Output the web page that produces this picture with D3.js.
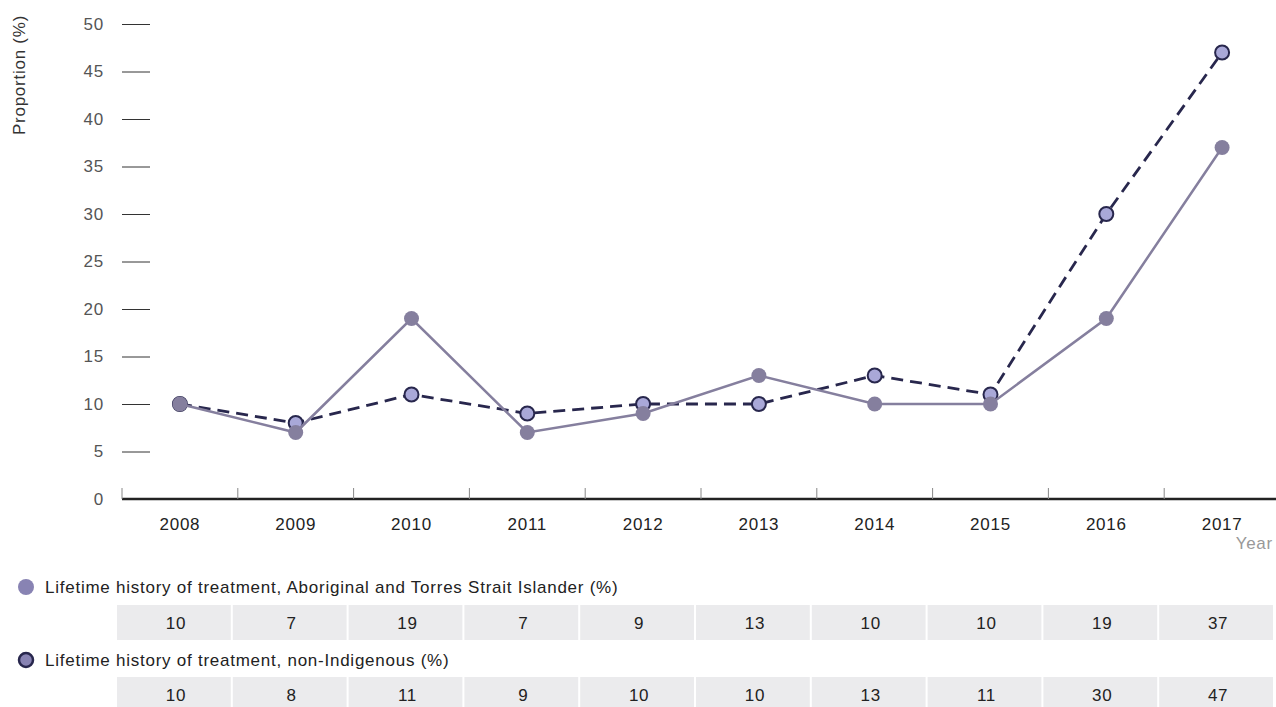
<!DOCTYPE html>
<html>
<head>
<meta charset="utf-8">
<script src="https://cdn.jsdelivr.net/npm/d3@7"></script>
<style>
  html, body { margin: 0; padding: 0; background: #fff; }
  svg { display: block; font-family: "Liberation Sans", Arial, sans-serif; letter-spacing: 0.75px; }
</style>
</head>
<body>
<svg id="chart" width="1276" height="707"></svg>
<script>
const years = ["2008", "2009", "2010", "2011", "2012", "2013", "2014", "2015", "2016", "2017"];
const aboriginal = [10, 7, 19, 7, 9, 13, 10, 10, 19, 37];
const nonIndigenous = [10, 8, 11, 9, 10, 10, 13, 11, 30, 47];
const yTicks = [0, 5, 10, 15, 20, 25, 30, 35, 40, 45, 50];
const seriesNames = [
  "Lifetime history of treatment, Aboriginal and Torres Strait Islander (%)",
  "Lifetime history of treatment, non-Indigenous (%)"
];

const svg = d3.select("#chart");

const x = d3.scaleBand().domain(years).range([122, 1280]).paddingInner(0).paddingOuter(0);
const y = d3.scaleLinear().domain([0, 50]).range([499, 24]);

// Y axis: labels with short tick lines, no domain line
const yAxis = svg.append("g").attr("transform", "translate(150,0)")
  .call(d3.axisLeft(y).tickValues(yTicks).tickSize(28).tickPadding(18));
yAxis.select(".domain").remove();
yAxis.selectAll(".tick line").attr("stroke", "#333").attr("stroke-width", 1);
yAxis.selectAll(".tick text").attr("fill", "#555").attr("font-size", 17)
  .attr("font-family", "Liberation Sans, Arial, sans-serif");

svg.append("text")
  .attr("transform", "translate(25,75) rotate(-90)")
  .attr("text-anchor", "middle")
  .attr("fill", "#333")
  .attr("font-size", 17)
  .text("Proportion (%)");

// X axis: band boundaries as small ticks, thick baseline
const xAxisG = svg.append("g");
xAxisG.append("line")
  .attr("x1", 122).attr("x2", 1276)
  .attr("y1", y(0)).attr("y2", y(0))
  .attr("stroke", "#222").attr("stroke-width", 2.5);
xAxisG.selectAll("line.bound").data(years)
  .join("line").attr("class", "bound")
  .attr("x1", d => x(d)).attr("x2", d => x(d))
  .attr("y1", y(0) - 11).attr("y2", y(0))
  .attr("stroke", "#888").attr("stroke-width", 1);
xAxisG.selectAll("text.yr").data(years)
  .join("text").attr("class", "yr")
  .attr("x", d => x(d) + x.bandwidth() / 2)
  .attr("y", 530)
  .attr("text-anchor", "middle")
  .attr("fill", "#222")
  .attr("font-size", 17)
  .text(d => d);
svg.append("text")
  .attr("x", 1273).attr("y", 549)
  .attr("text-anchor", "end")
  .attr("fill", "#999").attr("font-size", 17)
  .text("Year");

const cx = d => x(d) + x.bandwidth() / 2;

// non-Indigenous series: dashed dark line, light markers with dark outline
const line = d3.line().x((d, i) => cx(years[i])).y(d => y(d));
svg.append("path").datum(nonIndigenous)
  .attr("d", line)
  .attr("fill", "none")
  .attr("stroke", "#28274d")
  .attr("stroke-width", 2.8)
  .attr("stroke-dasharray", "12,7");
svg.selectAll("circle.nonind").data(nonIndigenous)
  .join("circle").attr("class", "nonind")
  .attr("cx", (d, i) => cx(years[i])).attr("cy", d => y(d))
  .attr("r", 7)
  .attr("fill", "#a9a8d8")
  .attr("stroke", "#28274d")
  .attr("stroke-width", 2);

// Aboriginal and Torres Strait Islander series: solid grey-purple line
svg.append("path").datum(aboriginal)
  .attr("d", line)
  .attr("fill", "none")
  .attr("stroke", "#857f9e")
  .attr("stroke-width", 2.5);
svg.selectAll("circle.abor").data(aboriginal)
  .join("circle").attr("class", "abor")
  .attr("cx", (d, i) => cx(years[i])).attr("cy", d => y(d))
  .attr("r", 7.5)
  .attr("fill", "#857f9e");

// Data table with legend rows
const rows = [
  { name: seriesNames[0], values: aboriginal, legendY: 587, cellY: 605, marker: "abor" },
  { name: seriesNames[1], values: nonIndigenous, legendY: 660, cellY: 677, marker: "nonind" }
];
rows.forEach(r => {
  const g = svg.append("g");
  if (r.marker === "abor") {
    g.append("circle").attr("cx", 26).attr("cy", r.legendY).attr("r", 8)
      .attr("fill", "#8883b3");
  } else {
    g.append("circle").attr("cx", 26).attr("cy", r.legendY).attr("r", 7)
      .attr("fill", "#8883b3").attr("stroke", "#28274d").attr("stroke-width", 2.5);
  }
  g.append("text").attr("x", 45).attr("y", r.legendY + 6)
    .attr("fill", "#222").attr("font-size", 17)
    .text(r.name);
  g.selectAll("rect").data(r.values)
    .join("rect")
    .attr("x", (d, i) => x(years[i]) - 5)
    .attr("y", r.cellY)
    .attr("width", x.bandwidth() - 2)
    .attr("height", 35)
    .attr("fill", "#ebebed");
  g.selectAll("text.val").data(r.values)
    .join("text").attr("class", "val")
    .attr("x", (d, i) => cx(years[i]) - 4)
    .attr("y", r.cellY + 24)
    .attr("text-anchor", "middle")
    .attr("fill", "#222").attr("font-size", 17)
    .text(d => d);
});
</script>
</body>
</html>
